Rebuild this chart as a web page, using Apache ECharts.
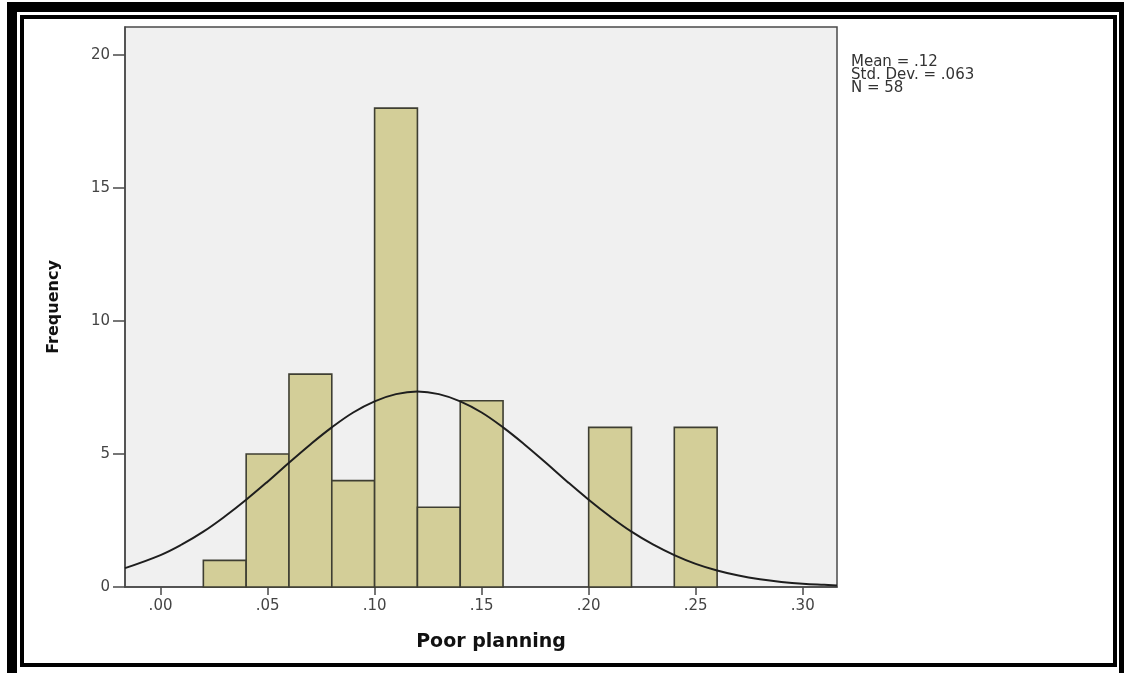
<!DOCTYPE html>
<html>
<head>
<meta charset="utf-8">
<title>Poor planning histogram</title>
<script src="https://cdn.jsdelivr.net/npm/echarts@6/dist/echarts.min.js"></script>
<style>
  html, body { margin: 0; padding: 0; background: #ffffff; }
  #chart { width: 1125px; height: 673px; }
</style>
</head>
<body>
<div id="chart"></div>
<script>
// Histogram bins (lower edge, upper edge, frequency)
const binStart = [0.02, 0.04, 0.06, 0.08, 0.10, 0.12, 0.14, 0.20, 0.24];
const binEnd   = [0.04, 0.06, 0.08, 0.10, 0.12, 0.14, 0.16, 0.22, 0.26];
const binCount = [1, 5, 8, 4, 18, 3, 7, 6, 6];

// Normal curve overlay, sampled along the x axis
const curveX = [-0.0166, 0.00, 0.01, 0.02, 0.03, 0.04, 0.05, 0.06, 0.07, 0.08, 0.09, 0.10, 0.11, 0.12,
                0.13, 0.14, 0.15, 0.16, 0.17, 0.18, 0.19, 0.20, 0.21, 0.22, 0.23, 0.24, 0.25, 0.26,
                0.27, 0.28, 0.29, 0.30, 0.31, 0.316];
const curveY = [0.71, 1.20, 1.60, 2.08, 2.65, 3.28, 3.96, 4.67, 5.36, 6.00, 6.56, 6.98, 7.25, 7.35,
                7.25, 6.98, 6.56, 6.00, 5.36, 4.67, 3.96, 3.28, 2.65, 2.08, 1.60, 1.20, 0.87, 0.62,
                0.43, 0.29, 0.19, 0.12, 0.08, 0.06];

// Axis ticks and labels
const xTickValues = [0, 0.05, 0.10, 0.15, 0.20, 0.25, 0.30];
const xTickLabels = ['.00', '.05', '.10', '.15', '.20', '.25', '.30'];
const yTickValues = [0, 5, 10, 15, 20];
const yTickLabels = ['0', '5', '10', '15', '20'];

// Summary statistics
const statLines = ['Mean = .12', 'Std. Dev. = .063', 'N = 58'];

const xMin = -0.0166, xMax = 0.316;
const yMin = 0, yMax = 21.05;

const histData = binStart.map((s, i) => [s, binEnd[i], binCount[i]]);
const curveData = curveX.map((x, i) => [x, curveY[i]]);

const chart = echarts.init(document.getElementById('chart'), null, { renderer: 'canvas' });

const option = {
  backgroundColor: '#ffffff',
  animation: false,
  grid: {
    left: 125, right: 288, top: 27, bottom: 86,
    show: true,
    backgroundColor: '#f0f0f0',
    borderColor: '#4a4a4a',
    borderWidth: 1.5
  },
  xAxis: {
    type: 'value',
    min: xMin, max: xMax,
    name: 'Poor planning',
    nameLocation: 'middle',
    nameGap: 46,
    nameTextStyle: {
      fontFamily: 'DejaVu Sans', fontWeight: 'bold', fontSize: 19, color: '#111',
      padding: [0, 0, 0, 20]
    },
    splitLine: { show: false },
    axisLine: { show: true, onZero: false, lineStyle: { color: '#4a4a4a', width: 1.5 } },
    axisTick: {
      show: true, length: 8, inside: false,
      lineStyle: { color: '#4a4a4a', width: 1.5 },
      customValues: xTickValues
    },
    axisLabel: {
      margin: 12,
      fontFamily: 'DejaVu Sans', fontSize: 15, color: '#444',
      customValues: xTickValues,
      formatter: (v) => {
        const i = xTickValues.findIndex(t => Math.abs(t - v) < 1e-9);
        return i >= 0 ? xTickLabels[i] : '';
      }
    }
  },
  yAxis: {
    type: 'value',
    min: yMin, max: yMax,
    name: 'Frequency',
    nameLocation: 'middle',
    nameGap: 63,
    nameRotate: 90,
    nameTextStyle: { fontFamily: 'DejaVu Sans', fontWeight: 'bold', fontSize: 16, color: '#111' },
    splitLine: { show: false },
    axisLine: { show: true, onZero: false, lineStyle: { color: '#4a4a4a', width: 1.5 } },
    axisTick: {
      show: true, length: 12, inside: false,
      lineStyle: { color: '#4a4a4a', width: 1.5 },
      customValues: yTickValues
    },
    axisLabel: {
      margin: 15,
      fontFamily: 'DejaVu Sans', fontSize: 15, color: '#444',
      customValues: yTickValues,
      formatter: (v) => {
        const i = yTickValues.indexOf(v);
        return i >= 0 ? yTickLabels[i] : '';
      }
    }
  },
  series: [
    {
      type: 'custom',
      name: 'Frequency',
      data: histData,
      encode: { x: [0, 1], y: 2 },
      z: 2,
      renderItem: (params, api) => {
        const top = api.coord([api.value(0), api.value(2)]);
        const base = api.coord([api.value(1), 0]);
        return {
          type: 'rect',
          shape: { x: top[0], y: top[1], width: base[0] - top[0], height: base[1] - top[1] },
          style: { fill: '#d3ce98', stroke: '#3e3e32', lineWidth: 1.6 }
        };
      }
    },
    {
      type: 'line',
      name: 'Normal',
      data: curveData,
      smooth: 0.4,
      showSymbol: false,
      clip: true,
      z: 3,
      lineStyle: { color: '#1e1e1e', width: 2 }
    }
  ],
  graphic: [
    // double frame around the whole figure
    { type: 'rect', z: -10, silent: true, shape: { x: 7, y: 2, width: 1117, height: 690 }, style: { fill: '#000000' } },
    { type: 'rect', z: -9, silent: true, shape: { x: 17, y: 12, width: 1102, height: 690 }, style: { fill: '#ffffff' } },
    { type: 'rect', z: -8, silent: true, shape: { x: 22, y: 17, width: 1093, height: 648 }, style: { fill: 'none', stroke: '#000000', lineWidth: 4 } },
    {
      type: 'text', left: 851, top: 55, z: 5, silent: true,
      style: {
        text: statLines.join('\n'),
        font: '15px "DejaVu Sans"',
        lineHeight: 13,
        fill: '#333'
      }
    }
  ]
};

chart.setOption(option);
</script>
</body>
</html>
